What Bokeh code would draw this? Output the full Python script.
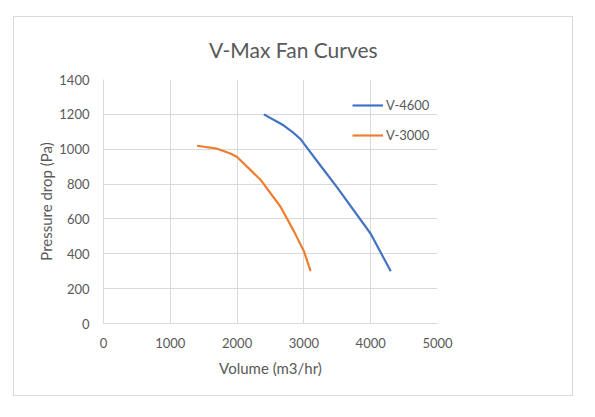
from bokeh.plotting import figure
from bokeh.models import Range1d, FixedTicker, Legend, LegendItem, Spacer
from bokeh.layouts import column, row
from bokeh.embed import file_html
from bokeh.resources import INLINE

title_text = "V-Max Fan Curves"
x_label = "Volume (m3/hr)"
y_label = "Pressure drop (Pa)"

x_ticks = [0, 1000, 2000, 3000, 4000, 5000]
y_ticks = [0, 200, 400, 600, 800, 1000, 1200, 1400]

v4600_name = "V-4600"
v4600_x = [2400, 2600, 2700, 2825, 2950, 3000, 3250, 3500, 4000, 4300]
v4600_y = [1200, 1158, 1136, 1100, 1058, 1032, 905, 780, 515, 300]

v3000_name = "V-3000"
v3000_x = [1400, 1700, 1900, 2000, 2350, 2650, 2850, 3000, 3100]
v3000_y = [1020, 1003, 975, 955, 825, 670, 530, 415, 300]

FONT = "Lato"
GREY = "#595959"
GRID = "#d9d9d9"

p = figure(width=560, height=380, output_backend="svg", toolbar_location=None,
           x_range=Range1d(0, 5000), y_range=Range1d(0, 1400),
           min_border_left=89, min_border_right=137, min_border_top=60, min_border_bottom=74)
p.styles = {"border": "1px solid #d9d9d9"}
p.outline_line_color = None
p.background_fill_color = "white"
p.border_fill_color = "white"

p.title.text = title_text
p.title.align = "left"
p.title.offset = 105.5
p.title.standoff = 35
p.title.text_font = FONT
p.title.text_font_size = "21px"
p.title.text_font_style = "normal"
p.title.text_color = GREY

p.xaxis.ticker = FixedTicker(ticks=x_ticks)
p.yaxis.ticker = FixedTicker(ticks=y_ticks)
for ax in (p.xaxis, p.yaxis):
    ax.major_tick_in = 0
    ax.major_tick_out = 0
    ax.minor_tick_in = 0
    ax.minor_tick_out = 0
    ax.axis_line_color = GRID
    ax.major_label_text_font = FONT
    ax.major_label_text_font_size = "13px"
    ax.major_label_text_color = GREY
    ax.axis_label_text_font = FONT
    ax.axis_label_text_font_size = "15px"
    ax.axis_label_text_color = GREY
    ax.axis_label_text_font_style = "normal"
p.xaxis.axis_label = x_label
p.yaxis.axis_label = y_label
p.yaxis.major_label_standoff = 14
p.xaxis.major_label_standoff = 14
p.xaxis.axis_label_standoff = 8
p.yaxis.axis_label_standoff = 1

p.xgrid.grid_line_color = GRID
p.ygrid.grid_line_color = GRID

r1 = p.line(v4600_x, v4600_y, line_color="#4472C4", line_width=2.2)
r2 = p.line(v3000_x, v3000_y, line_color="#ED7D31", line_width=2.2)

legend = Legend(items=[LegendItem(label=v4600_name, renderers=[r1]),
                       LegendItem(label=v3000_name, renderers=[r2])],
                location=(249, 178), padding=0, margin=0, spacing=10,
                glyph_width=31, glyph_height=20, label_standoff=3,
                label_text_font=FONT, label_text_font_size="13px",
                label_text_color=GREY, border_line_color=None,
                background_fill_alpha=0)
p.add_layout(legend)

root = column(Spacer(width=10, height=16), row(Spacer(width=13, height=10), p))
open("out.html", "w").write(file_html(root, INLINE))
